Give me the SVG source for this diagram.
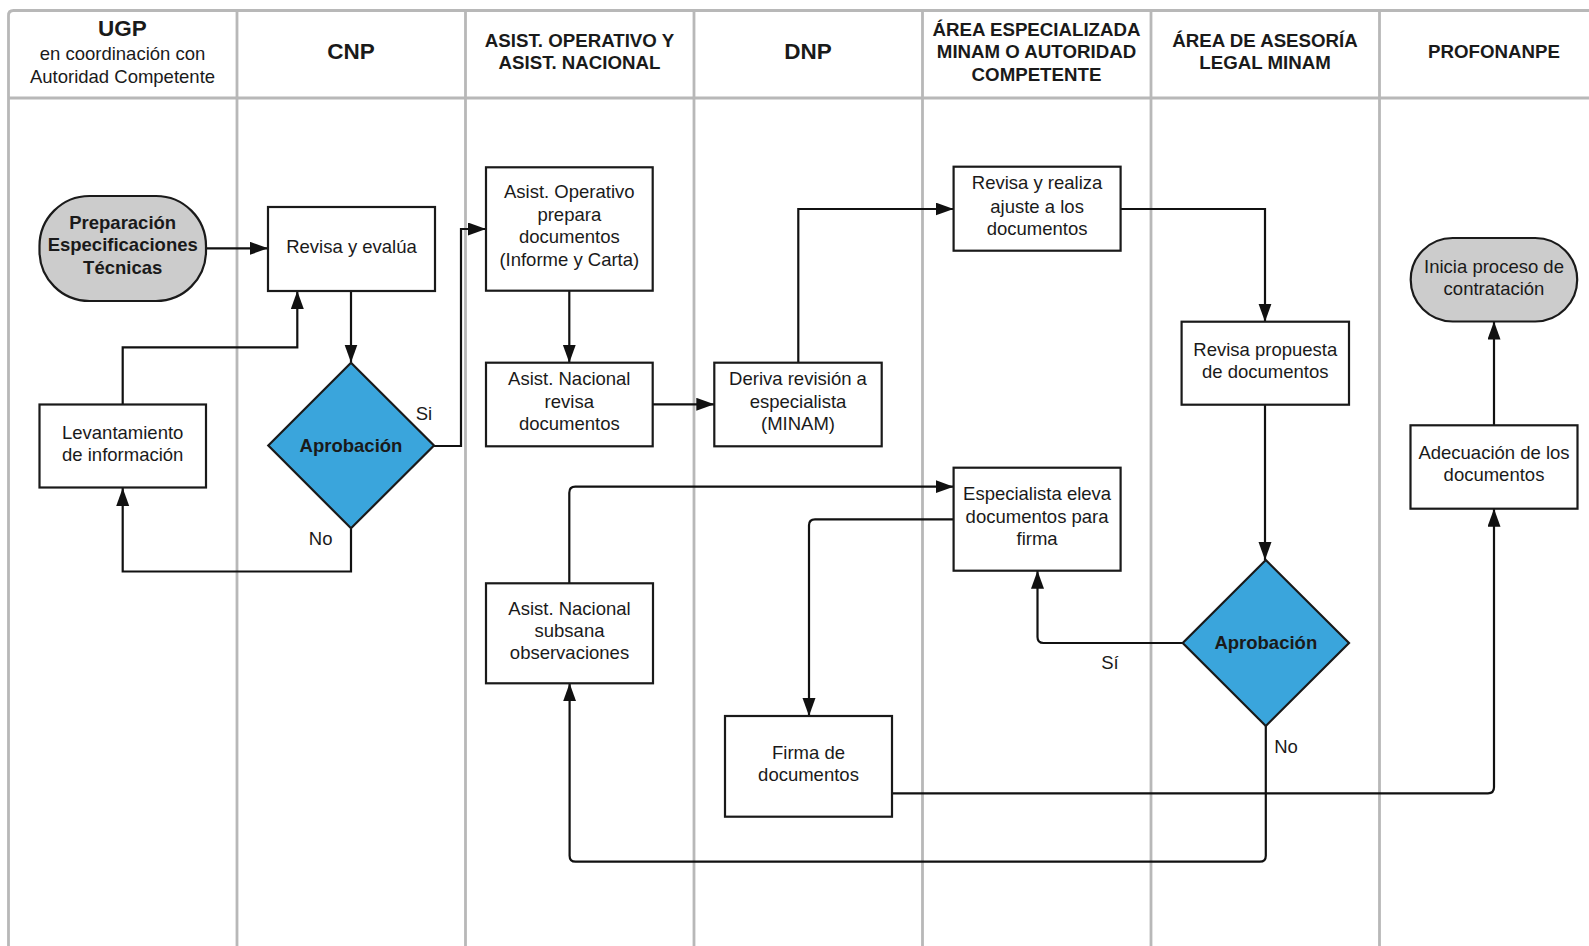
<svg xmlns="http://www.w3.org/2000/svg" width="1589" height="946" viewBox="0 0 1589 946">
  <style>
    .lane { fill: none; stroke: #b8b8b8; stroke-width: 2.8; }
    .box { fill: #ffffff; stroke: #1a1a1a; stroke-width: 2.2; }
    .term { fill: #cccccc; stroke: #1a1a1a; stroke-width: 2.2; }
    .dec { fill: #3aa5dc; stroke: #1a1a1a; stroke-width: 2.2; }
    .t { font-family: "Liberation Sans", Arial, sans-serif; font-size: 18.5px; fill: #1a1a1a; text-anchor: middle; }
    .b { font-weight: bold; }
    .h { font-family: "Liberation Sans", Arial, sans-serif; font-size: 18.7px; font-weight: bold; fill: #1a1a1a; text-anchor: middle; }
    .hl { font-size: 22.5px; }
    .lbl { font-family: "Liberation Sans", Arial, sans-serif; font-size: 18.5px; fill: #1a1a1a; text-anchor: middle; }
    .c { fill: none; stroke: #111111; stroke-width: 2.2; marker-end: url(#arr); }
  </style>
  <defs>
    <marker id="arr" markerUnits="userSpaceOnUse" markerWidth="20" markerHeight="14" refX="18" refY="6.5" orient="auto">
      <path d="M0,0 L18,6.5 L0,13 z" fill="#111111"/>
    </marker>
  </defs>

  <rect width="1589" height="946" fill="#ffffff"/>

  <!-- swimlane frame -->
  <g id="lanes">
    <path class="lane" d="M8.5,946 V15.5 Q8.5,10.5 13.5,10.5 H1589"/>
    <path class="lane" d="M8.5,98 H1589"/>
    <path class="lane" d="M237,10.5 V946 M465.5,10.5 V946 M694,10.5 V946 M922.5,10.5 V946 M1151,10.5 V946 M1379.5,10.5 V946"/>
  </g>

  <!-- lane headers -->
  <g id="headers">
    <text class="h hl" x="122.5" y="35.5">UGP</text>
    <text class="t" x="122.5" y="60">en coordinación con</text>
    <text class="t" x="122.5" y="83">Autoridad Competente</text>
    <text class="h hl" x="351" y="59">CNP</text>
    <text class="h" x="579.5" y="47">ASIST. OPERATIVO Y</text>
    <text class="h" x="579.5" y="69">ASIST. NACIONAL</text>
    <text class="h hl" x="808" y="59">DNP</text>
    <text class="h" x="1036.5" y="35.5">ÁREA ESPECIALIZADA</text>
    <text class="h" x="1036.5" y="58">MINAM O AUTORIDAD</text>
    <text class="h" x="1036.5" y="80.5">COMPETENTE</text>
    <text class="h" x="1265" y="47">ÁREA DE ASESORÍA</text>
    <text class="h" x="1265" y="69">LEGAL MINAM</text>
    <text class="h" x="1494" y="58">PROFONANPE</text>
  </g>

  <!-- connectors -->
  <g id="connectors">
    <path class="c" d="M206,248.3 H268"/>
    <path class="c" d="M351,291 V362.5"/>
    <path class="c" d="M434,446 H461 V229 H486"/>
    <path class="c" d="M351,528.5 V571.5 H122.7 V488"/>
    <path class="c" d="M122.7,404.5 V347.3 H297.3 V291"/>
    <path class="c" d="M569.3,291 V362.7"/>
    <path class="c" d="M653,404.3 H714.3"/>
    <path class="c" d="M798.3,362.7 V209 H953.6"/>
    <path class="c" d="M1120.6,209 H1265 V321.7"/>
    <path class="c" d="M1265,404.7 V560"/>
    <path class="c" d="M1182.7,643 H1043.5 Q1037.5,643 1037.5,637 V570.7"/>
    <path class="c" d="M1265.8,726 V855.7 Q1265.8,861.7 1259.8,861.7 H575.6 Q569.6,861.7 569.6,855.7 V683.3"/>
    <path class="c" d="M569.3,583.3 V492.7 Q569.3,486.7 575.3,486.7 H953.6"/>
    <path class="c" d="M953.6,519.3 H815 Q809,519.3 809,525.3 V716"/>
    <path class="c" d="M892,793.3 H1488 Q1494,793.3 1494,787.3 V508.7"/>
    <path class="c" d="M1494,425.3 V321.5"/>
  </g>

  <!-- branch labels -->
  <g id="labels">
    <text class="lbl" x="424" y="420.3">Si</text>
    <text class="lbl" x="320.7" y="545">No</text>
    <text class="lbl" x="1110" y="669.3">Sí</text>
    <text class="lbl" x="1286" y="752.7">No</text>
  </g>

  <!-- nodes -->
  <g id="n-preparacion">
    <rect class="term" x="39.5" y="196" width="166.5" height="105" rx="50" ry="50"/>
    <text class="t b" x="122.7" y="228.5">Preparación</text>
    <text class="t b" x="122.7" y="251">Especificaciones</text>
    <text class="t b" x="122.7" y="273.5">Técnicas</text>
  </g>
  <g id="n-revisa-evalua">
    <rect class="box" x="268" y="207" width="167" height="84"/>
    <text class="t" x="351.5" y="252.7">Revisa y evalúa</text>
  </g>
  <g id="n-aprobacion-cnp">
    <polygon class="dec" points="351,362.7 434,445.5 351,528.3 268.3,445.5"/>
    <text class="t b" x="351" y="451.8">Aprobación</text>
  </g>
  <g id="n-levantamiento">
    <rect class="box" x="39.5" y="404.5" width="166.5" height="83"/>
    <text class="t" x="122.7" y="438.7">Levantamiento</text>
    <text class="t" x="122.7" y="461">de información</text>
  </g>
  <g id="n-asist-operativo">
    <rect class="box" x="486" y="167.3" width="166.7" height="123.4"/>
    <text class="t" x="569.3" y="198.3">Asist. Operativo</text>
    <text class="t" x="569.3" y="220.8">prepara</text>
    <text class="t" x="569.3" y="243.3">documentos</text>
    <text class="t" x="569.3" y="265.5">(Informe y Carta)</text>
  </g>
  <g id="n-asist-nacional-revisa">
    <rect class="box" x="486" y="362.7" width="166.7" height="83.6"/>
    <text class="t" x="569.3" y="385.3">Asist. Nacional</text>
    <text class="t" x="569.3" y="407.7">revisa</text>
    <text class="t" x="569.3" y="430">documentos</text>
  </g>
  <g id="n-deriva">
    <rect class="box" x="714.3" y="362.7" width="167.4" height="83.6"/>
    <text class="t" x="798" y="385.3">Deriva revisión a</text>
    <text class="t" x="798" y="407.7">especialista</text>
    <text class="t" x="798" y="430">(MINAM)</text>
  </g>
  <g id="n-revisa-realiza">
    <rect class="box" x="953.6" y="166.7" width="167" height="84"/>
    <text class="t" x="1037.1" y="189.3">Revisa y realiza</text>
    <text class="t" x="1037.1" y="212.7">ajuste a los</text>
    <text class="t" x="1037.1" y="235.3">documentos</text>
  </g>
  <g id="n-revisa-propuesta">
    <rect class="box" x="1181.6" y="321.7" width="167.4" height="83"/>
    <text class="t" x="1265.3" y="356">Revisa propuesta</text>
    <text class="t" x="1265.3" y="377.7">de documentos</text>
  </g>
  <g id="n-aprobacion-legal">
    <polygon class="dec" points="1265.8,560 1349,643 1265.8,726 1182.7,643"/>
    <text class="t b" x="1265.8" y="649.3">Aprobación</text>
  </g>
  <g id="n-especialista">
    <rect class="box" x="953.6" y="467.7" width="167" height="103"/>
    <text class="t" x="1037.1" y="500">Especialista eleva</text>
    <text class="t" x="1037.1" y="522.7">documentos para</text>
    <text class="t" x="1037.1" y="545">firma</text>
  </g>
  <g id="n-subsana">
    <rect class="box" x="486" y="583.3" width="167" height="100"/>
    <text class="t" x="569.5" y="614.5">Asist. Nacional</text>
    <text class="t" x="569.5" y="637">subsana</text>
    <text class="t" x="569.5" y="659.3">observaciones</text>
  </g>
  <g id="n-firma">
    <rect class="box" x="725" y="716" width="167" height="100.7"/>
    <text class="t" x="808.5" y="759.3">Firma de</text>
    <text class="t" x="808.5" y="781">documentos</text>
  </g>
  <g id="n-adecuacion">
    <rect class="box" x="1410.5" y="425.3" width="167" height="83.4"/>
    <text class="t" x="1494" y="459.3">Adecuación de los</text>
    <text class="t" x="1494" y="481">documentos</text>
  </g>
  <g id="n-inicia">
    <rect class="term" x="1410.7" y="238" width="166.5" height="83.5" rx="42" ry="42"/>
    <text class="t" x="1494" y="272.7">Inicia proceso de</text>
    <text class="t" x="1494" y="294.7">contratación</text>
  </g>
</svg>
